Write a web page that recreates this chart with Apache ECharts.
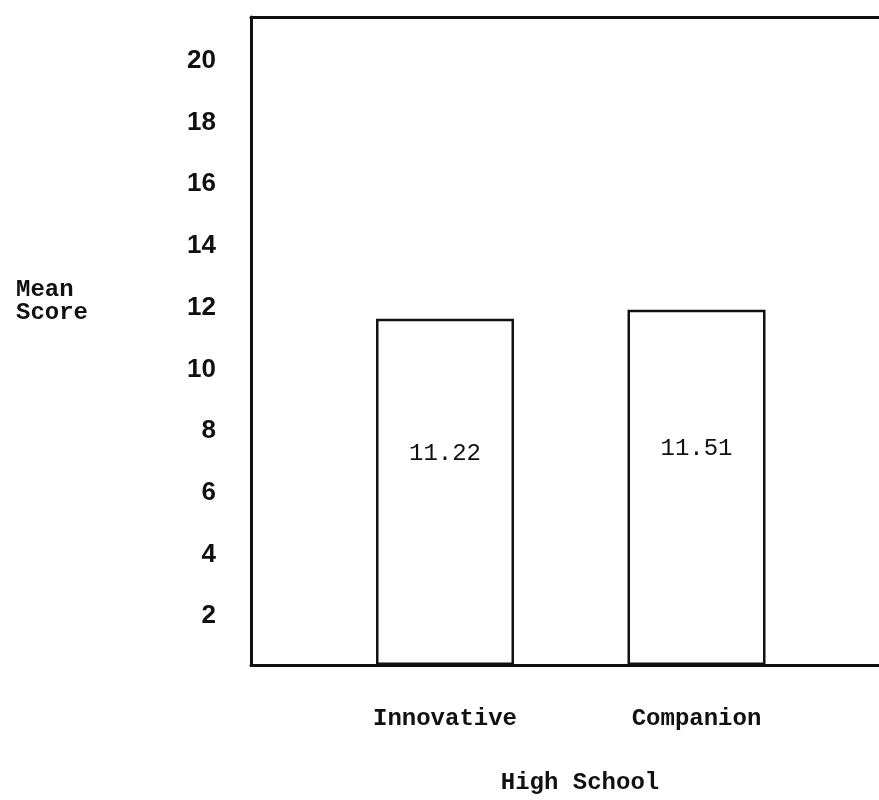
<!DOCTYPE html>
<html>
<head>
<meta charset="utf-8">
<script src="https://cdn.jsdelivr.net/npm/echarts@6/dist/echarts.min.js"></script>
<style>
  html, body { margin: 0; padding: 0; background: #fff; }
  #chart { width: 879px; height: 800px; }
</style>
</head>
<body>
<div id="chart"></div>
<script>
const categories = ['Innovative', 'Companion']
const meanScores = [11.22, 11.51]
const yTicks = [2, 4, 6, 8, 10, 12, 14, 16, 18, 20]

const ink = '#111'
const mono = '"Liberation Mono", "DejaVu Sans Mono", monospace'

const chart = echarts.init(document.getElementById('chart'))

// bar centres sit at x = 0 and 1 on a hidden value scale
const xRange = { min: -0.7714, max: 1.7256 }

chart.setOption({
  animation: false,
  title: {
    text: 'Mean\nScore',
    left: 11,
    top: 273,
    textStyle: { fontFamily: mono, fontSize: 24, fontWeight: 'bold', color: ink, lineHeight: 23 }
  },
  grid: { left: 251, right: 0, top: 17, bottom: 131 },
  xAxis: [
    {
      type: 'value',
      min: xRange.min,
      max: xRange.max,
      name: 'High School',
      nameLocation: 'middle',
      nameGap: 106,
      nameTextStyle: { fontFamily: mono, fontSize: 24, fontWeight: 'bold', color: ink, padding: [0, 0, 0, 30] },
      axisLine: { show: true, onZero: false, lineStyle: { color: ink, width: 3 } },
      axisTick: { show: false },
      splitLine: { show: false },
      axisLabel: {
        customValues: categories.map((_, i) => i),
        margin: 42,
        formatter: (v) => categories[Math.round(v)] || '',
        fontFamily: mono,
        fontSize: 24,
        fontWeight: 'bold',
        color: ink
      }
    },
    {
      type: 'value',
      position: 'top',
      min: xRange.min,
      max: xRange.max,
      axisLine: { show: true, onZero: false, lineStyle: { color: ink, width: 3 } },
      axisTick: { show: false },
      axisLabel: { show: false },
      splitLine: { show: false }
    }
  ],
  yAxis: {
    type: 'value',
    min: 0,
    max: 21,
    interval: 2,
    axisLine: { show: true, onZero: false, lineStyle: { color: ink, width: 3 } },
    axisTick: { show: false },
    splitLine: { show: false },
    axisLabel: {
      margin: 35,
      verticalAlign: 'top',
      showMinLabel: false,
      showMaxLabel: false,
      formatter: (v) => (yTicks.includes(v) ? String(v) : ''),
      fontFamily: '"Liberation Sans", Arial, sans-serif',
      fontSize: 26,
      fontWeight: 'bold',
      color: ink
    }
  },
  series: [
    {
      type: 'bar',
      barWidth: 138,
      data: meanScores.map((v, i) => [i, v]),
      itemStyle: { color: '#fff', borderColor: ink, borderWidth: 2.5 },
      label: {
        show: true,
        position: ['50%', '39%'],
        align: 'center',
        verticalAlign: 'middle',
        formatter: (p) => meanScores[p.dataIndex].toFixed(2),
        fontFamily: mono,
        fontSize: 24,
        color: ink
      }
    }
  ]
})
</script>
</body>
</html>
